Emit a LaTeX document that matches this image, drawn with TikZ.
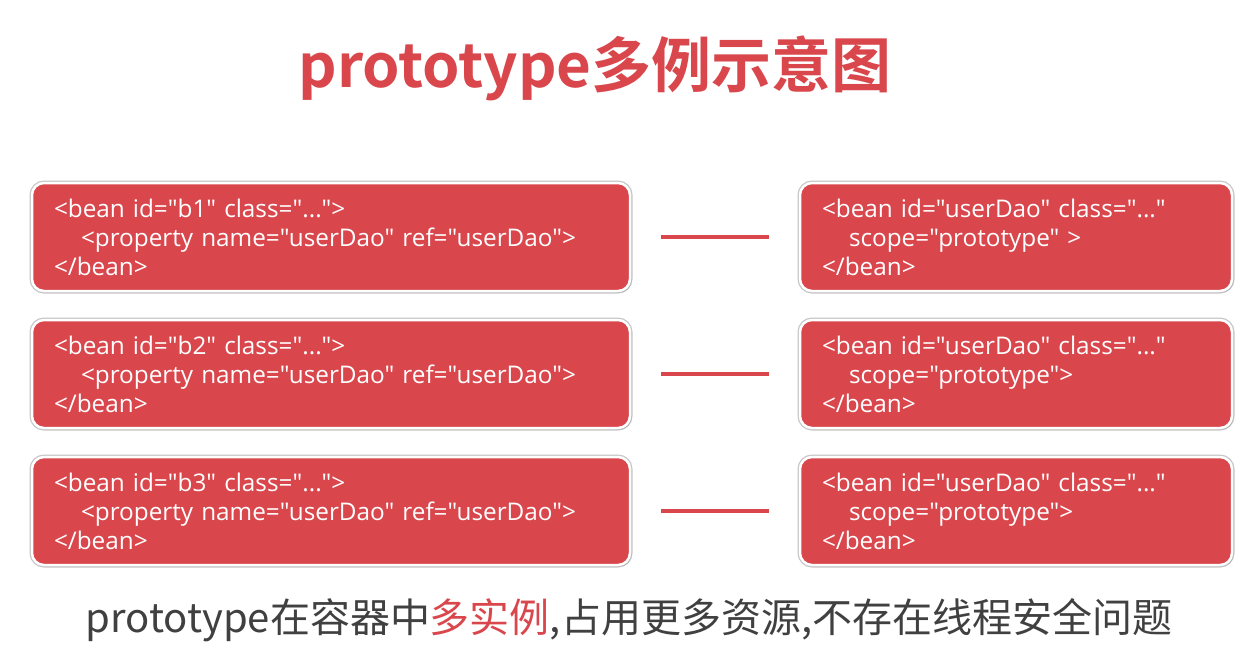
\documentclass[tikz,border=0pt]{standalone}
\usepackage{fontspec}
\usepackage{xcolor}
\usetikzlibrary{shadows}
\setmainfont{Noto Sans CJK SC}
\newfontfamily\beanfont{Open Sans}[Ligatures=TeXOff]
\newfontfamily\titlefont{Noto Sans CJK SC}[BoldFont={* Bold}]
\definecolor{beanred}{RGB}{217,71,77}
\definecolor{notegray}{RGB}{64,64,64}

\begin{document}
\begin{tikzpicture}[
    x=1pt, y=-1pt,
    beanbox/.style={rectangle, draw=white, line width=2.5pt,
                    rounded corners=12pt, fill=beanred,
                    text=white, align=left, anchor=center,
                    inner xsep=22pt, inner ysep=0pt,
                    minimum height=108pt,
                    font=\beanfont\fontsize{24.3}{29}\selectfont,
                    preaction={draw=gray!45, line width=5pt},
                    drop shadow={opacity=0.3, shadow xshift=1.5pt,
                                 shadow yshift=-1.5pt, fill=gray}},
    refbox/.style={beanbox, text width=554pt},
    protobox/.style={beanbox, text width=388pt},
    linkline/.style={draw=beanred, line width=3.5pt,
                     shorten <=30pt, shorten >=30pt},
]
\useasboundingbox (0,0) rectangle (1247,665);
\fill[white] (0,0) rectangle (1247,665);

% title
\node (title) at (595,68) {\titlefont\bfseries\fontsize{60}{60}\selectfont\color{beanred}prototype多例示意图};

% beans
\foreach \i/\y/\gap in {1/237/\ , 2/374/, 3/511/} {
  \node [refbox] (b\i) at (331,\y) {<bean id="b\i" class="...">\\
    \hspace*{27pt}<property name="userDao" ref="userDao">\\
    </bean>};
  \node [protobox] (d\i) at (1016,\y) {<bean id="userDao" class="..."\\
    \hspace*{27pt}scope="prototype"\gap>\\
    </bean>};
  \draw [linkline] (b\i.east) -- (d\i.west);
}

% note
\node (note) at (629,620) {\fontsize{40}{40}\selectfont\color{notegray}prototype在容器中\textcolor{beanred}{多实例},占用更多资源,不存在线程安全问题};

\end{tikzpicture}
\end{document}
